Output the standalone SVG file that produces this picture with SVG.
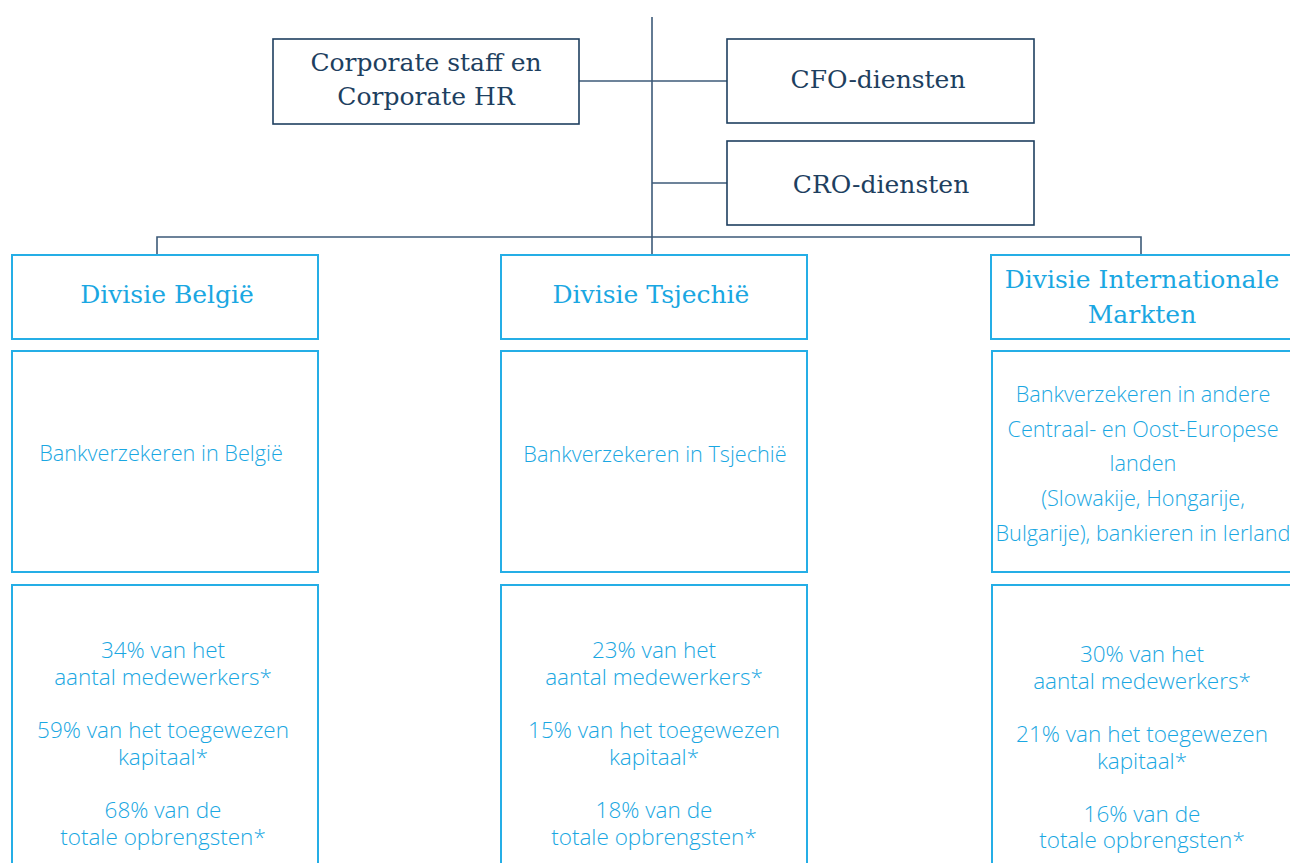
<svg xmlns="http://www.w3.org/2000/svg" width="1290" height="863" viewBox="0 0 1290 863">
<style>
.nbox{fill:#fff;stroke:#1e3f5f;stroke-width:1.6}
.bbox{fill:#fff;stroke:#25aee6;stroke-width:2}
.conn{fill:none;stroke:#3d5a78;stroke-width:1.6}
.st{font-family:"DejaVu Serif","Liberation Serif",serif;font-size:25px;fill:#1e3f5f;text-anchor:middle;font-weight:300}
.ht{font-family:"DejaVu Serif","Liberation Serif",serif;font-size:25px;fill:#1aa7e2;text-anchor:middle;font-weight:300}
.bt{font-family:"Open Sans","Noto Sans",sans-serif;font-size:21.7px;fill:#1aa7e2;text-anchor:middle;font-weight:300}
.ct{font-family:"Open Sans","Noto Sans",sans-serif;font-size:22.5px;fill:#1aa7e2;text-anchor:middle;font-weight:300}
</style>
<rect width="1290" height="863" fill="#fff"/>
<g id="connectors">
<path class="conn" d="M652 17V254"/>
<path class="conn" d="M579 81H727"/>
<path class="conn" d="M652 183H727"/>
<path class="conn" d="M157 254V237H1141V254"/>
</g>
<g id="corporate"><rect class="nbox" x="273" y="39" width="306" height="85"/>
<text class="st" x="426" y="71">Corporate staff en</text><text class="st" x="426" y="105">Corporate HR</text></g>
<g id="cfo"><rect class="nbox" x="727" y="39" width="307" height="84"/>
<text class="st" x="878" y="88">CFO-diensten</text></g>
<g id="cro"><rect class="nbox" x="727" y="141" width="307" height="84"/>
<text class="st" x="881" y="193">CRO-diensten</text></g>
<g id="div-belgie"><rect class="bbox" x="12" y="255" width="306" height="84"/>
<text class="ht" x="167" y="303">Divisie België</text></g>
<g id="div-tsjechie"><rect class="bbox" x="501" y="255" width="306" height="84"/>
<text class="ht" x="651" y="303">Divisie Tsjechië</text></g>
<g id="div-int"><rect class="bbox" x="991" y="255" width="310" height="84"/>
<text class="ht" x="1142" y="288">Divisie Internationale</text><text class="ht" x="1142" y="323">Markten</text></g>
<g id="act-belgie"><rect class="bbox" x="12" y="351" width="306" height="221"/>
<text class="bt" x="161" y="461">Bankverzekeren in België</text></g>
<g id="act-tsjechie"><rect class="bbox" x="501" y="351" width="306" height="221"/>
<text class="bt" x="655" y="462">Bankverzekeren in Tsjechië</text></g>
<g id="act-int"><rect class="bbox" x="992" y="351" width="310" height="221"/>
<text class="bt" x="1143" y="402">Bankverzekeren in andere</text>
<text class="bt" x="1143" y="437">Centraal- en Oost-Europese</text>
<text class="bt" x="1143" y="471">landen</text>
<text class="bt" x="1143" y="506">(Slowakije, Hongarije,</text>
<text class="bt" x="1143" y="541">Bulgarije), bankieren in Ierland</text></g>
<g id="kpi-belgie"><rect class="bbox" x="12" y="585" width="306" height="290"/>
<text class="ct" x="163" y="658">34% van het</text><text class="ct" x="163" y="685">aantal medewerkers*</text>
<text class="ct" x="163" y="738">59% van het toegewezen</text><text class="ct" x="163" y="765">kapitaal*</text>
<text class="ct" x="163" y="818">68% van de</text><text class="ct" x="163" y="845">totale opbrengsten*</text></g>
<g id="kpi-tsjechie"><rect class="bbox" x="501" y="585" width="306" height="290"/>
<text class="ct" x="654" y="658">23% van het</text><text class="ct" x="654" y="685">aantal medewerkers*</text>
<text class="ct" x="654" y="738">15% van het toegewezen</text><text class="ct" x="654" y="765">kapitaal*</text>
<text class="ct" x="654" y="818">18% van de</text><text class="ct" x="654" y="845">totale opbrengsten*</text></g>
<g id="kpi-int"><rect class="bbox" x="992" y="585" width="310" height="290"/>
<text class="ct" x="1142" y="662">30% van het</text><text class="ct" x="1142" y="689">aantal medewerkers*</text>
<text class="ct" x="1142" y="742">21% van het toegewezen</text><text class="ct" x="1142" y="769">kapitaal*</text>
<text class="ct" x="1142" y="822">16% van de</text><text class="ct" x="1142" y="848">totale opbrengsten*</text></g>
</svg>
